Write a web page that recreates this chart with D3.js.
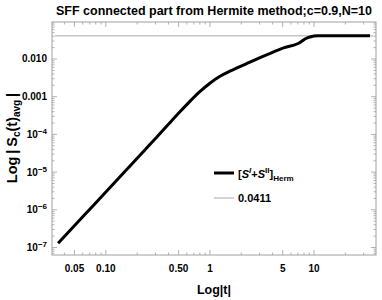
<!DOCTYPE html>
<html><head><meta charset="utf-8">
<script src="https://cdn.jsdelivr.net/npm/d3@7"></script>
<style>
body{margin:0;background:#fff;}
text{font-family:"Liberation Sans",Arial,sans-serif;font-weight:bold;}
</style></head>
<body><svg id="c" width="382" height="300"></svg>
<script>
const tVals = [0.0348, 0.06, 0.1, 0.15, 0.237, 0.3, 0.412, 0.515, 0.642, 0.80, 1.0, 1.25, 1.557, 2.42, 3.64, 5.2, 6.86, 7.33, 8.19, 9.15, 10.9, 15, 25, 34.5];
const sVals = [1.29e-7, 6.5e-7, 2.97e-6, 9.9e-6, 3.86e-5, 7.76e-5, 2.04e-4, 3.98e-4, 7.53e-4, 1.36e-3, 2.28e-3, 3.48e-3, 4.74e-3, 8.24e-3, 0.01346, 0.020, 0.025, 0.0274, 0.0339, 0.0383, 0.0411, 0.0411, 0.0411, 0.0411];
const constVal = 0.0411;
const xTickVals = [0.05, 0.1, 0.5, 1, 5, 10];
const xTickLabels = ["0.05", "0.10", "0.50", "1", "5", "10"];
const yTickVals = [1e-2, 1e-3, 1e-4, 1e-5, 1e-6, 1e-7];
const yTickLabels = ["0.010", "0.001", "10^-4", "10^-5", "10^-6", "10^-7"];
const titleText = "SFF connected part from Hermite method;c=0.9,N=10";

const svg = d3.select("#c");
const L = 52, R = 376, T = 22, B = 255;
const x = d3.scaleLog().domain([0.0304, 39.4]).range([L, R]);
const y = d3.scaleLog().domain([6.32e-8, 0.0958]).range([B, T]);
const frameCol = "#a0a0a0";

const xMinor = [];
for (let e = -2; e <= 1; e++) for (let m = 1; m <= 9; m++) { const v = m * Math.pow(10, e); if (v >= 0.0304 && v <= 39.4) xMinor.push(v); }
const yMinor = [];
for (let e = -8; e <= -2; e++) for (let m = 1; m <= 9; m++) { const v = m * Math.pow(10, e); if (v >= 6.32e-8 && v <= 0.0958) yMinor.push(v); }

const g = svg.append("g");
xMinor.forEach(v => {
  const major = xTickVals.some(t => Math.abs(t - v) / v < 1e-6);
  const len = major ? 5 : 2.5;
  g.append("line").attr("x1", x(v)).attr("x2", x(v)).attr("y1", B).attr("y2", B - len).attr("stroke", frameCol).attr("stroke-width", 0.8);
  g.append("line").attr("x1", x(v)).attr("x2", x(v)).attr("y1", T).attr("y2", T + len).attr("stroke", frameCol).attr("stroke-width", 0.8);
});
yMinor.forEach(v => {
  const major = yTickVals.some(t => Math.abs(t - v) / v < 1e-6);
  const len = major ? 5 : 2.5;
  g.append("line").attr("y1", y(v)).attr("y2", y(v)).attr("x1", L).attr("x2", L + len).attr("stroke", frameCol).attr("stroke-width", 0.8);
  g.append("line").attr("y1", y(v)).attr("y2", y(v)).attr("x1", R).attr("x2", R - len).attr("stroke", frameCol).attr("stroke-width", 0.8);
});
g.append("rect").attr("x", L).attr("y", T).attr("width", R - L).attr("height", B - T).attr("fill", "none").attr("stroke", frameCol).attr("stroke-width", 1);

xTickVals.forEach((v, i) => {
  svg.append("text").attr("x", x(v)).attr("y", B + 17).attr("text-anchor", "middle").attr("font-size", "10px").attr("fill", "#000").text(xTickLabels[i]);
});
yTickVals.forEach((v, i) => {
  const lab = yTickLabels[i];
  const t = svg.append("text").attr("x", L - 5).attr("y", y(v) + 3.5).attr("text-anchor", "end").attr("font-size", "10px").attr("fill", "#000");
  if (lab.includes("^")) {
    const [b, e] = lab.split("^");
    t.append("tspan").text(b);
    t.append("tspan").attr("dy", -4).attr("font-size", "8px").text(e.replace("-", "\u2212"));
  } else t.text(lab);
});

svg.append("line").attr("x1", x(0.0325)).attr("x2", x(37)).attr("y1", y(constVal)).attr("y2", y(constVal)).attr("stroke", "#a8a8a8").attr("stroke-width", 1);

const pts = tVals.map((t, i) => [t, sVals[i]]);
svg.append("path").datum(pts)
  .attr("d", d3.line().x(d => x(d[0])).y(d => y(d[1])).curve(d3.curveMonotoneX))
  .attr("fill", "none").attr("stroke", "#000").attr("stroke-width", 3);

svg.append("text").attr("x", 214).attr("y", 15).attr("text-anchor", "middle").attr("font-size", "12.5px").attr("fill", "#000").text(titleText);

svg.append("text").attr("x", 214).attr("y", 294).attr("text-anchor", "middle").attr("font-size", "12.5px").attr("fill", "#000").text("Log|t|");
const yl = svg.append("text").attr("transform", "translate(17,138) rotate(-90)").attr("text-anchor", "middle").attr("font-size", "14.5px").attr("fill", "#000");
yl.append("tspan").text("Log\u2009|\u2009S");
yl.append("tspan").attr("font-size", "10px").attr("dy", 3).text("c");
yl.append("tspan").attr("dy", -3).text("(t)");
yl.append("tspan").attr("font-size", "10px").attr("dy", 3).text("avg");
yl.append("tspan").attr("dy", -3).text("\u2009|");

svg.append("line").attr("x1", 214).attr("x2", 234).attr("y1", 173).attr("y2", 173).attr("stroke", "#000").attr("stroke-width", 3);
const lt = svg.append("text").attr("x", 238).attr("y", 178).attr("font-size", "11px").attr("fill", "#000");
lt.append("tspan").text("[");
lt.append("tspan").attr("font-style", "italic").text("S");
lt.append("tspan").attr("font-size", "8px").attr("dy", -5).attr("font-style", "italic").text("I");
lt.append("tspan").attr("dy", 5).text("+");
lt.append("tspan").attr("font-style", "italic").text("S");
lt.append("tspan").attr("font-size", "8px").attr("dy", -5).text("II");
lt.append("tspan").attr("dy", 5).text("]");
lt.append("tspan").attr("font-size", "8px").attr("dy", 3).text("Herm");
svg.append("line").attr("x1", 214).attr("x2", 234).attr("y1", 198).attr("y2", 198).attr("stroke", "#a8a8a8").attr("stroke-width", 1);
svg.append("text").attr("x", 238).attr("y", 202).attr("font-size", "11px").attr("fill", "#000").text("0.0411");
</script></body></html>
